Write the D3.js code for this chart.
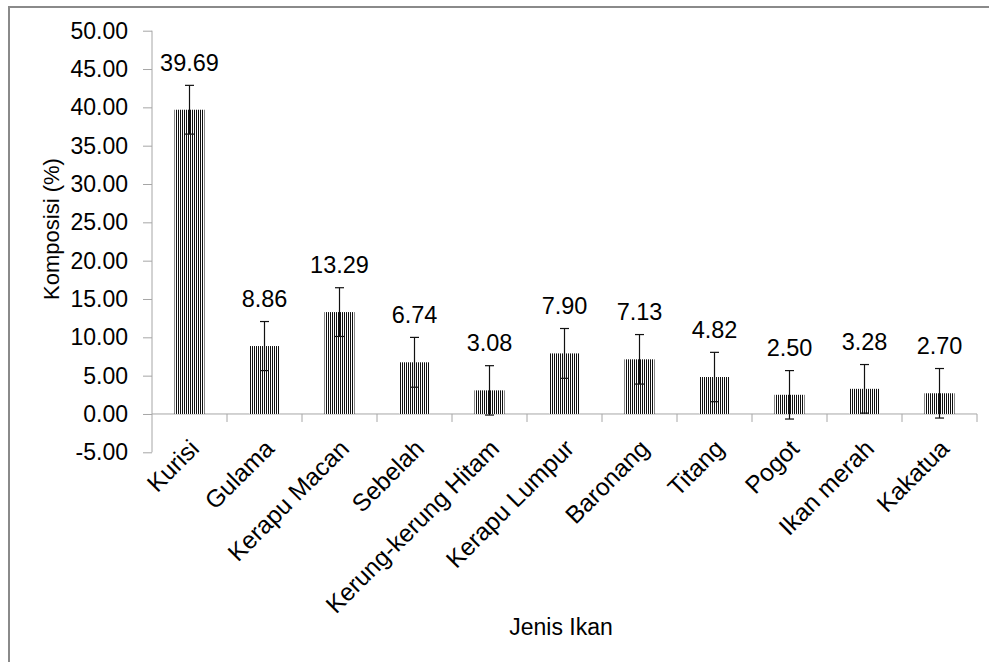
<!DOCTYPE html>
<html>
<head>
<meta charset="utf-8">
<script src="https://cdn.jsdelivr.net/npm/d3@7/dist/d3.min.js"></script>
<style>
  html, body { margin: 0; padding: 0; background: #fff; }
  svg { display: block; font-family: "Liberation Sans", Arial, sans-serif; }
</style>
</head>
<body>
<svg id="chart" width="989" height="662"></svg>
<script>
const categories = ["Kurisi", "Gulama", "Kerapu Macan", "Sebelah", "Kerung-kerung Hitam",
  "Kerapu Lumpur", "Baronang", "Titang", "Pogot", "Ikan merah", "Kakatua"];
const values = [39.69, 8.86, 13.29, 6.74, 3.08, 7.90, 7.13, 4.82, 2.50, 3.28, 2.70];
const errors = [3.18, 3.20, 3.18, 3.25, 3.22, 3.25, 3.23, 3.22, 3.16, 3.17, 3.23];
const yTicks = [-5, 0, 5, 10, 15, 20, 25, 30, 35, 40, 45, 50];
const xTitle = "Jenis Ikan";
const yTitle = "Komposisi (%)";

const svg = d3.select("#chart");

// outer frame (extends past the picture on the right and bottom)
svg.append("rect").attr("x", 9).attr("y", 7).attr("width", 1100).attr("height", 800)
  .attr("fill", "none").attr("stroke", "#8a8a8a").attr("stroke-width", 2);

const x = d3.scaleBand().domain(categories).range([152, 977]).paddingInner(0.6).paddingOuter(0.3);
const xb = d3.scaleBand().domain(categories).range([152, 977]);
const y = d3.scaleLinear().domain([-5, 50]).range([452.3, 30.7]);

// pattern
const defs = svg.append("defs");
const pat = defs.append("pattern").attr("id", "vstripe").attr("patternUnits", "userSpaceOnUse")
  .attr("width", 2).attr("height", 10);
pat.append("rect").attr("width", 2).attr("height", 10).attr("fill", "#ffffff");
pat.append("rect").attr("width", 1).attr("height", 10).attr("fill", "#111111");

const axisColor = "#a6a6a6";
const fontSize = 23;

// y axis
const yAxis = svg.append("g").attr("transform", "translate(152,0)")
  .call(d3.axisLeft(y).tickValues(yTicks).tickSize(9).tickPadding(15)
    .tickFormat(d => d.toFixed(2)));
yAxis.select(".domain").attr("stroke", axisColor).attr("d", `M0,${y(-5)}V${y(50)}`);
yAxis.selectAll(".tick line").attr("stroke", axisColor);
yAxis.selectAll(".tick text").attr("font-size", fontSize).attr("fill", "#000")
  .attr("font-family", "Liberation Sans, Arial, sans-serif");

// x axis at zero
const xg = svg.append("g");
xg.append("line").attr("x1", 152).attr("x2", 977).attr("y1", y(0)).attr("y2", y(0))
  .attr("stroke", axisColor);
xg.selectAll("line.xt").data(categories).enter().append("line").attr("class", "xt")
  .attr("x1", d => xb(d) + xb.bandwidth()).attr("x2", d => xb(d) + xb.bandwidth())
  .attr("y1", y(0)).attr("y2", y(0) + 8).attr("stroke", axisColor);

// bars
svg.append("g").selectAll("rect").data(categories).enter().append("rect")
  .attr("x", d => x(d)).attr("width", x.bandwidth())
  .attr("y", (d, i) => y(values[i])).attr("height", (d, i) => y(0) - y(values[i]))
  .attr("fill", "url(#vstripe)");

// error bars
const eg = svg.append("g").attr("stroke", "#111").attr("stroke-width", 1.2);
categories.forEach((c, i) => {
  const cx = x(c) + x.bandwidth() / 2;
  const t = y(values[i] + errors[i]), b = y(values[i] - errors[i]);
  eg.append("line").attr("x1", cx).attr("x2", cx).attr("y1", t).attr("y2", b);
  eg.append("line").attr("x1", cx - 4.5).attr("x2", cx + 4.5).attr("y1", t).attr("y2", t);
  eg.append("line").attr("x1", cx - 4.5).attr("x2", cx + 4.5).attr("y1", b).attr("y2", b);
});

// value labels
svg.append("g").selectAll("text").data(categories).enter().append("text")
  .attr("x", d => x(d) + x.bandwidth() / 2)
  .attr("y", (d, i) => y(values[i] + errors[i]) - 23)
  .attr("dy", "0.35em").attr("text-anchor", "middle").attr("font-size", 23.5)
  .text((d, i) => values[i].toFixed(2));

// category labels
svg.append("g").selectAll("text").data(categories).enter().append("text")
  .attr("transform", d => `translate(${x(d) + x.bandwidth() / 2 + 5},444) rotate(-45)`)
  .attr("dy", "0.35em").attr("text-anchor", "end").attr("font-size", 24.5)
  .text(d => d);

// titles
svg.append("text").attr("x", 561).attr("y", 627).attr("dy", "0.35em")
  .attr("text-anchor", "middle").attr("font-size", fontSize).text(xTitle);
svg.append("text").attr("transform", "translate(51,229) rotate(-90)").attr("dy", "0.35em")
  .attr("text-anchor", "middle").attr("font-size", 22).text(yTitle);
</script>
</body>
</html>
